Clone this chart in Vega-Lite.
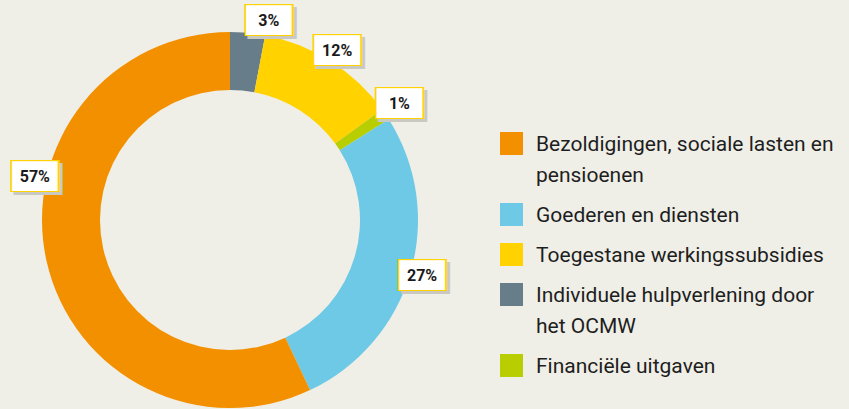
{
  "$schema": "https://vega.github.io/schema/vega-lite/v6.json",
  "width": 460,
  "height": 440,
  "padding": {"left": 0, "top": 0, "right": 389, "bottom": 0},
  "autosize": {"type": "none"},
  "background": "#efefe7",
  "config": {"view": {"stroke": null}},
  "data": {
    "values": [
      {"categorie": "Individuele hulpverlening door het OCMW", "pct": 3, "label": "3%", "volgorde": 1},
      {"categorie": "Toegestane werkingssubsidies", "pct": 12, "label": "12%", "volgorde": 2},
      {"categorie": "Financiële uitgaven", "pct": 1, "label": "1%", "volgorde": 3},
      {"categorie": "Goederen en diensten", "pct": 27, "label": "27%", "volgorde": 4},
      {"categorie": "Bezoldigingen, sociale lasten en pensioenen", "pct": 57, "label": "57%", "volgorde": 5}
    ]
  },
  "encoding": {
    "theta": {"field": "pct", "type": "quantitative", "stack": true},
    "order": {"field": "volgorde", "type": "quantitative"}
  },
  "layer": [
    {
      "mark": {"type": "arc", "outerRadius": 188, "innerRadius": 130, "strokeWidth": 0},
      "encoding": {
        "color": {
          "field": "categorie",
          "type": "nominal",
          "sort": ["Bezoldigingen, sociale lasten en pensioenen", "Goederen en diensten", "Toegestane werkingssubsidies", "Individuele hulpverlening door het OCMW", "Financiële uitgaven"],
          "scale": {
            "domain": ["Bezoldigingen, sociale lasten en pensioenen", "Goederen en diensten", "Toegestane werkingssubsidies", "Individuele hulpverlening door het OCMW", "Financiële uitgaven"],
            "range": ["#f39000", "#6dc9e6", "#ffd200", "#687d8a", "#b8ce00"]
          },
          "legend": {
            "title": null,
            "orient": "none",
            "legendX": 500,
            "legendY": 132,
            "padding": 0,
            "symbolType": "square",
            "symbolSize": 529,
            "symbolStrokeWidth": 0,
            "symbolOpacity": 1,
            "labelFont": "Roboto",
            "labelFontSize": 21,
            "labelColor": "#1e1e1e",
            "labelLimit": 400,
            "labelOffset": 13,
            "rowPadding": 17,
            "labelExpr": "datum.label == 'Bezoldigingen, sociale lasten en pensioenen' ? ['Bezoldigingen, sociale lasten en', 'pensioenen'] : datum.label == 'Individuele hulpverlening door het OCMW' ? ['Individuele hulpverlening door', 'het OCMW'] : datum.label",
            "encode": {"labels": {"update": {"lineHeight": {"value": 31}, "dy": {"value": 1.5}}}}
          }
        }
      }
    },
    {
      "mark": {"type": "text", "radius": 200, "font": "DejaVu Sans Mono", "fontSize": 27, "color": "#c9c9c1", "baseline": "middle",
        "dx": {"expr": "(datum.label == '3%' ? 20 : datum.label == '1%' ? 4 : 0) + 3"}, "dy": {"expr": "(datum.label == '57%' ? -87 : datum.label == '1%' ? -4 : 0) + 3"}},
      "encoding": {"text": {"value": "███"}}
    },
    {
      "mark": {"type": "text", "radius": 200, "font": "DejaVu Sans Mono", "fontSize": 27, "color": "#ffd200", "baseline": "middle",
        "dx": {"expr": "datum.label == '3%' ? 20 : datum.label == '1%' ? 4 : 0"}, "dy": {"expr": "datum.label == '57%' ? -87 : datum.label == '1%' ? -4 : 0"}},
      "encoding": {"text": {"value": "███"}}
    },
    {
      "mark": {"type": "text", "radius": 200, "font": "DejaVu Sans Mono", "fontSize": 25, "color": "#ffffff", "baseline": "middle",
        "dx": {"expr": "datum.label == '3%' ? 20 : datum.label == '1%' ? 4 : 0"}, "dy": {"expr": "datum.label == '57%' ? -87 : datum.label == '1%' ? -4 : 0"}},
      "encoding": {"text": {"value": "███"}}
    },
    {
      "mark": {"type": "text", "radius": 200, "font": "Roboto", "fontWeight": "bold", "fontSize": 16, "color": "#1a1a1a", "baseline": "middle",
        "dx": {"expr": "datum.label == '3%' ? 20 : datum.label == '1%' ? 4 : 0"}, "dy": {"expr": "datum.label == '57%' ? -87 : datum.label == '1%' ? -4 : 0"}},
      "encoding": {"text": {"field": "label"}}
    }
  ]
}
